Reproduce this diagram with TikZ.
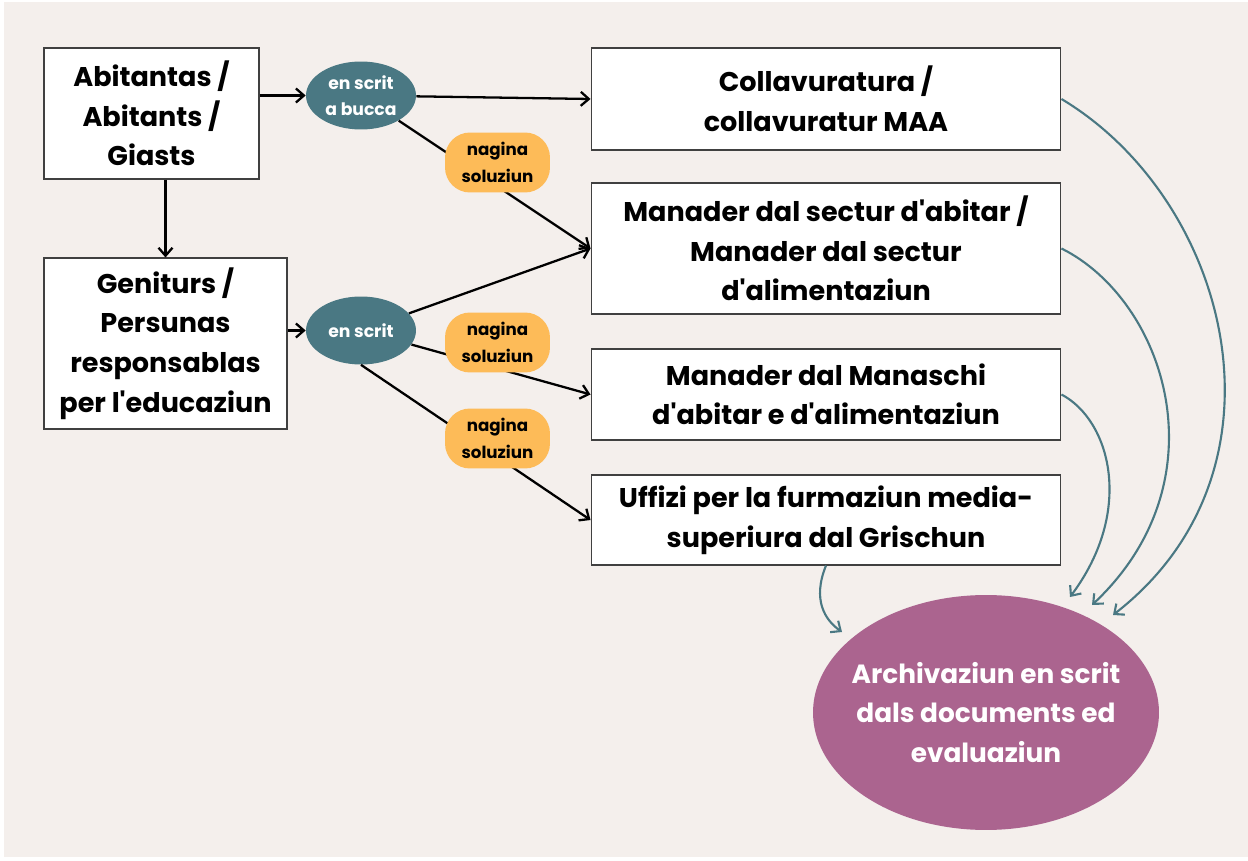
\documentclass[tikz,border=0pt]{standalone}
\usepackage{fontspec}
\setmainfont{Poppins}
\newfontfamily\poppins{Poppins}
\usepackage{xcolor}
\usetikzlibrary{shapes.geometric,arrows.meta}
\definecolor{paper}{HTML}{F4EFEC}
\definecolor{teal}{HTML}{4A7883}
\definecolor{amber}{HTML}{FDBB58}
\definecolor{plum}{HTML}{AB648F}

\begin{document}
\begin{tikzpicture}[x=0.02cm, y=-0.02cm]
    % Define styles
    \tikzstyle{box} = [rectangle, minimum width=9.4cm, text centered, align=center, draw=black!75, line width=0.6pt, fill=white, inner sep=0pt, font=\poppins\fontsize{15.4}{22.5}\selectfont\bfseries]
    \tikzstyle{channel} = [ellipse, minimum width=2.2cm, minimum height=1.36cm, fill=teal, text=white, align=center, inner sep=0pt, font=\poppins\fontsize{9.8}{14.5}\selectfont\bfseries]
    \tikzstyle{pill} = [rectangle, rounded corners=0.5cm, minimum width=2.1cm, minimum height=1.2cm, fill=amber, align=center, inner sep=0pt, font=\poppins\fontsize{9.5}{15.5}\selectfont\bfseries]
    \tikzstyle{archive} = [ellipse, minimum width=6.92cm, minimum height=4.7cm, fill=plum, inner sep=0pt]
    \tikzstyle{archivetext} = [text=white, align=center, font=\poppins\fontsize{15}{22.5}\selectfont\bfseries]
    \tikzstyle{arrow} = [line width=1.3pt, ->, >={Straight Barb[length=1.6mm, width=2.8mm]}]
    \tikzstyle{flow} = [line width=1.2pt, draw=teal, ->, >={Straight Barb[length=1.6mm, width=2.8mm]}]

    % Canvas
    \useasboundingbox (0,0) rectangle (1248,861);
    \fill [white] (0,0) rectangle (1248,861);
    \fill [paper] (4,2) rectangle (1248,857);

    % Sources
    \node (residents) [box, minimum width=4.3cm, minimum height=2.62cm] at (151.5,113.5) {Abitantas /\\Abitants /\\Giasts};
    \node (parents) [box, minimum width=4.86cm, minimum height=3.42cm] at (165.5,343.5) {Geniturs /\\Persunas\\responsablas\\per l'educaziun};

    % Channels
    \node (oral_written) [channel] at (361,95.5) {en scrit\\a bucca};
    \node (written) [channel] at (361,330.5) {en scrit};

    % Recipients
    \node (collab) [box, minimum height=2.04cm] at (826,99) {Collavuratura /\\collavuratur MAA};
    \node (sector_head) [box, minimum height=2.62cm] at (826,248.5) {Manader dal sectur d'abitar /\\Manader dal sectur\\d'alimentaziun};
    \node (business_head) [box, minimum height=1.82cm] at (826,394.5) {Manader dal Manaschi\\d'abitar e d'alimentaziun};
    \node (office) [box, minimum height=1.8cm] at (826,520) {Uffizi per la furmaziun media-\\superiura dal Grischun};

    % Archive
    \node (archive) [archive] at (986,712.5) {};
    \node (archive_text) [archivetext] at (archive) {Archivaziun en scrit\\dals documents ed\\evaluaziun};
    \coordinate (in_collab) at (1113,615);
    \coordinate (in_sector) at (1092,605);
    \coordinate (in_business) at (1070,597);
    \coordinate (in_office) at (842,632);

    % Arrows
    \draw [arrow] (residents.east |- oral_written.west) -- (oral_written.west);
    \draw [arrow] (residents.south -| parents.north) -- (parents.north);
    \draw [arrow] (parents.east |- written.west) -- (written.west);
    \draw [arrow] (oral_written) -- (collab.west);
    \draw [arrow] (oral_written) -- (sector_head.west);
    \draw [arrow] (written) -- (sector_head.west);
    \draw [arrow] (written) -- (business_head.west);
    \draw [arrow] (written.south) -- (office.west);

    % No solution
    \node (no_solution_a) [pill] at (497.5,162.5) {nagina\\soluziun};
    \node (no_solution_b) [pill] at (497.5,342.5) {nagina\\soluziun};
    \node (no_solution_c) [pill] at (497.5,438.5) {nagina\\soluziun};

    % Filing
    \draw [flow] (collab.east) .. controls (1230,200) and (1300,470) .. (in_collab);
    \draw [flow] (sector_head.east) .. controls (1165,300) and (1225,480) .. (in_sector);
    \draw [flow] (business_head.east) .. controls (1110,420) and (1135,510) .. (in_business);
    \draw [flow] (office.south) .. controls (812,600) and (825,620) .. (in_office);
\end{tikzpicture}
\end{document}
